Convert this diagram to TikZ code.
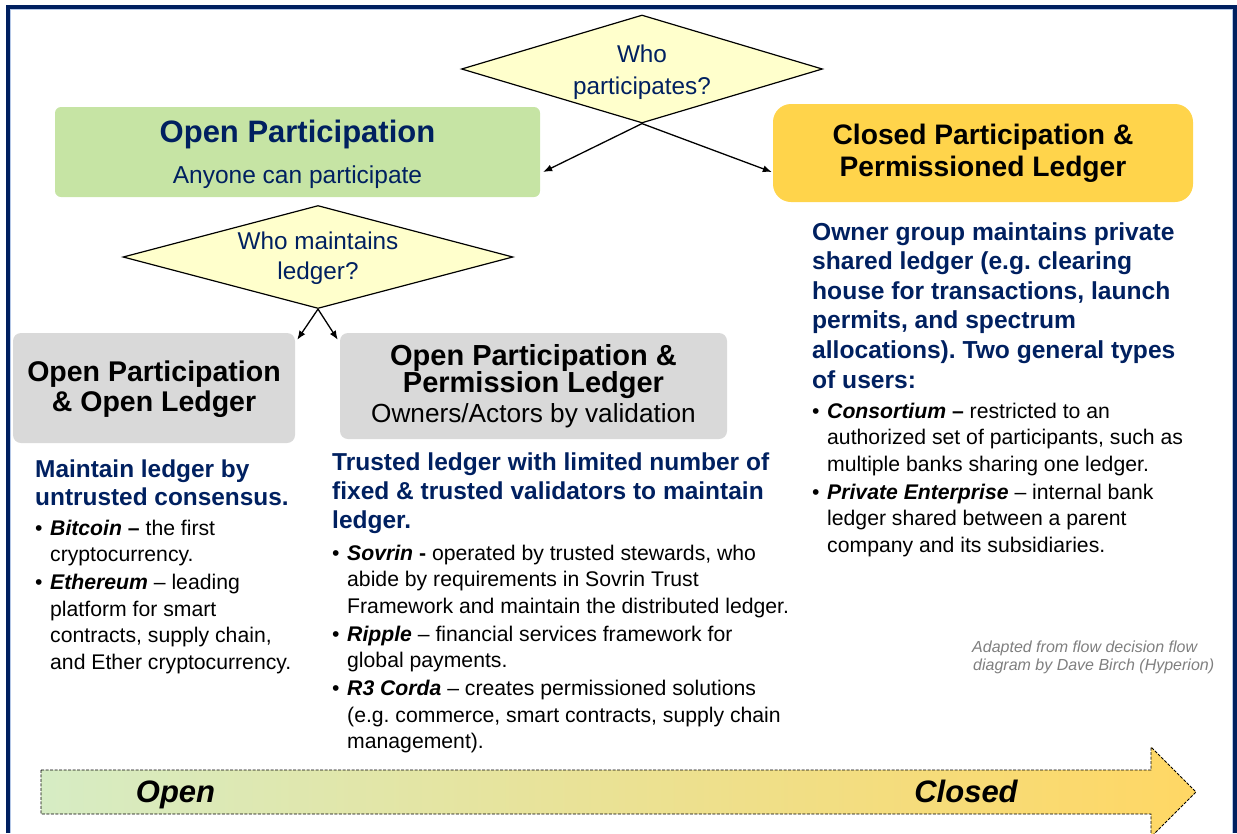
\documentclass[tikz,border=0pt]{standalone}
\usepackage{fontspec}
\setmainfont{Liberation Sans}
\frenchspacing
\usetikzlibrary{arrows.meta}
\usetikzlibrary{shapes.geometric}

\definecolor{navy}{RGB}{0,32,96}
\definecolor{qfill}{RGB}{255,255,204}
\definecolor{greenfill}{RGB}{198,228,164}
\definecolor{goldfill}{RGB}{255,212,75}
\definecolor{grayfill}{RGB}{217,217,217}
\definecolor{framelight}{RGB}{180,199,231}
\definecolor{arrowleft}{RGB}{214,236,196}
\definecolor{arrowmid}{RGB}{241,234,180}
\definecolor{arrowright}{RGB}{255,215,100}
\definecolor{notegray}{RGB}{127,127,127}

\newcommand{\fsz}[2]{\fontsize{#1}{#2}\selectfont\lineskiplimit=-20pt\relax}
\newcommand{\bitem}[2]{\noindent\hangindent=15pt\hangafter=1\makebox[15pt][l]{•}\textbf{\textit{#1}}#2\par}

\tikzset{
question/.style={shape=diamond, draw=black, line width=1.2pt, fill=qfill, text=navy, inner sep=0pt, align=center},
box/.style={inner sep=0pt, align=flush center},
link/.style={-{Latex[length=9pt,width=7pt]}, line width=1.3pt},
heading/.style={anchor=base west, inner sep=0pt, text width=470pt, align=flush left, text=navy, font=\fsz{24.5}{29}\bfseries},
bodytext/.style={anchor=base west, inner sep=0pt, text width=470pt, align=flush left, font=\fsz{21.2}{26.5}}
}

\begin{document}
\begin{tikzpicture}[x=1pt,y=-1pt]
    \useasboundingbox (0,0) rectangle (1237,833);

                % frame
                \draw[navy, line width=4pt] (8,833) -- (8,7) -- (1235,7) -- (1235,833);
                \draw[framelight, line width=1pt] (10.5,833) -- (10.5,9.5) -- (1232.5,9.5) -- (1232.5,833);

                \node[question, aspect=3.34, minimum width=361pt, minimum height=108pt, font=\fsz{24.3}{32}, text height=57pt] (part) at (642,69) {Who\\participates?};
                \node[box, fill=greenfill, rounded corners=6pt, minimum width=485pt, minimum height=90pt, text width=470pt, text height=26.6pt, text=navy] (open) at (297.5,152)
                    {\fsz{31}{37}\bfseries Open Participation\par\fsz{24.5}{41}\mdseries Anyone can participate\par};
                \node[box, fill=goldfill, rounded corners=18pt, minimum width=420pt, minimum height=98pt, text width=400pt, font=\fsz{28.2}{32}\bfseries] (closed) at (983,153)
                    {Closed Participation \&\\Permissioned Ledger};

                \node[question, aspect=3.79, minimum width=390pt, minimum height=103pt, font=\fsz{24.3}{30}, text height=51pt] (maint) at (318,257) {Who maintains\\ledger?};
                \node[box, fill=grayfill, rounded corners=8pt, minimum width=282pt, minimum height=110pt, text width=270pt, text height=24pt, font=\fsz{28.5}{30}\bfseries] (ol) at (154,388)
                    {Open Participation\\\& Open Ledger};
                \node[box, fill=grayfill, rounded corners=8pt, minimum width=387pt, minimum height=106pt, text width=375pt] (pl) at (533.5,386)
                    {\fsz{29}{27}\bfseries Open Participation \&\\Permission Ledger\par\fsz{26.2}{30}\mdseries Owners/Actors by validation\par};

                \draw[link] (part.south) -- ([xshift=3pt,yshift=-20pt]open.east);
                \draw[link] (part.south) -- ([xshift=-1pt,yshift=-19pt]closed.west);
                \draw[link] (maint.south) -- ([xshift=2pt,yshift=-7pt]ol.north east);
                \draw[link] (maint.south) -- ([xshift=-2pt,yshift=-7pt]pl.north west);

                \node[heading, font=\fsz{24.4}{28}\bfseries] (olhead) at (35,477) {Maintain ledger by\\untrusted consensus.};
                \node[bodytext] (ollist) at (35,535) {\parskip=1.5pt
                    \bitem{Bitcoin}{ \textbf{–} the first\newline cryptocurrency.}
                    \bitem{Ethereum}{ – leading\newline platform for smart\newline contracts, supply chain,\newline and Ether cryptocurrency.}};

                \node[heading] (plhead) at (332,470) {Trusted ledger with limited number of\\fixed \& trusted validators to maintain\\ledger.};
                \node[bodytext] (pllist) at (332,560) {\parskip=1.5pt
                    \bitem{Sovrin}{ \textbf{-} operated by trusted stewards, who\newline abide by requirements in Sovrin Trust\newline Framework and maintain the distributed ledger.}
                    \bitem{Ripple}{ – financial services framework for\newline global payments.}
                    \bitem{R3 Corda}{ – creates permissioned solutions\newline (e.g. commerce, smart contracts, supply chain\newline management).}};

                \node[heading, font=\fsz{24.6}{29.6}\bfseries] (clhead) at (812,240) {Owner group maintains private\\shared ledger (e.g. clearing\\house for transactions, launch\\permits, and spectrum\\allocations). Two general types\\of users:};
                \node[bodytext] (cllist) at (812,418) {\parskip=1.5pt
                    \bitem{Consortium}{ \textbf{–} restricted to an\newline authorized set of participants, such as\newline multiple banks sharing one ledger.}
                    \bitem{Private Enterprise}{ – internal bank\newline ledger shared between a parent\newline company and its subsidiaries.}};

                \node[anchor=base west, inner sep=0pt, text width=260pt, align=flush left, text=notegray, font=\fsz{16}{18}\itshape] (credit) at (972,652)
                    {Adapted from flow decision flow\\\hspace*{1pt}diagram by Dave Birch (Hyperion)};

                % open -> closed scale
                \path[draw=black, dashed, dash pattern=on 3pt off 1.5pt, line width=0.8pt, left color=arrowleft, middle color=arrowmid, right color=arrowright]
                    (41,770) -- (1151,770) -- (1151,747) -- (1196,792) -- (1151,837) -- (1151,814) -- (41,814) -- cycle;
                \node[anchor=base, inner sep=0pt, font=\fsz{31}{31}\bfseries\itshape] (opentxt) at (175.5,802) {Open};
                \node[anchor=base, inner sep=0pt, font=\fsz{31}{31}\bfseries\itshape] (closedtxt) at (966,802) {Closed};

            \end{tikzpicture}
\end{document}
